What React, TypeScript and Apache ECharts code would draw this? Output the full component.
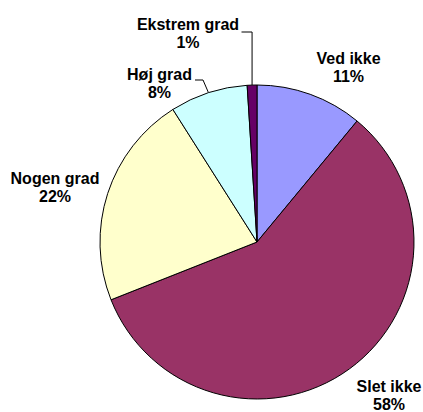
import React, { useEffect, useRef } from "react";
import * as echarts from "echarts";

const categories = ["Ved ikke", "Slet ikke", "Nogen grad", "Høj grad", "Ekstrem grad"];
const values = [11, 58, 22, 8, 1];
const colors = ["#9999FF", "#993366", "#FFFFCC", "#CCFFFF", "#660066"];
const showLeader = [false, false, false, true, true];
// label block centres (layout only)
const labelPos: number[][] = [
  [348.5, 67],
  [389, 395],
  [55, 187.5],
  [159.5, 83.5],
  [188, 33.5],
];
// y of the horizontal leader segment and x where it meets the label
const leaderY = [0, 0, 0, 80, 32];
const leaderX = [0, 0, 0, 195, 241.5];
const leaderBendX = [0, 0, 0, 203, 0];

export default function App() {
  const ref = useRef<HTMLDivElement>(null);
  useEffect(() => {
    document.body.style.margin = "0";
    const chart = echarts.init(ref.current!, undefined, { renderer: "svg" });
    chart.setOption({
      animation: false,
      backgroundColor: "#ffffff",
      series: [
        {
          type: "pie",
          center: [257, 242],
          radius: 157,
          startAngle: 90,
          clockwise: true,
          avoidLabelOverlap: false,
          itemStyle: { borderColor: "#000000", borderWidth: 1 },
          label: {
            show: true,
            position: "outside",
            formatter: (p: any) => `${p.name}\n${p.percent.toFixed(0)}%`,
            fontFamily: "'Liberation Sans', Arial, sans-serif",
            fontWeight: "bold",
            fontSize: 16,
            lineHeight: 18,
            color: "#000000",
            align: "center",
          },
          labelLine: { show: true, lineStyle: { color: "#000000", width: 1 } },
          labelLayout: (params: any) => {
            const i = params.dataIndex;
            const res: any = {
              x: labelPos[i][0],
              y: labelPos[i][1],
              align: "center",
              verticalAlign: "middle",
            };
            if (showLeader[i] && params.labelLinePoints) {
              const p0 = params.labelLinePoints[0];
              const bx = leaderBendX[i] || p0[0];
              res.labelLinePoints = [
                [p0[0], p0[1]],
                [bx, leaderY[i]],
                [leaderX[i], leaderY[i]],
              ];
            }
            return res;
          },
          data: categories.map((name, i) => ({
            name,
            value: values[i],
            itemStyle: { color: colors[i] },
            labelLine: { show: showLeader[i] },
          })),
        },
      ],
    });
    return () => chart.dispose();
  }, []);
  return <div ref={ref} style={{ width: 423, height: 412 }} />;
}
